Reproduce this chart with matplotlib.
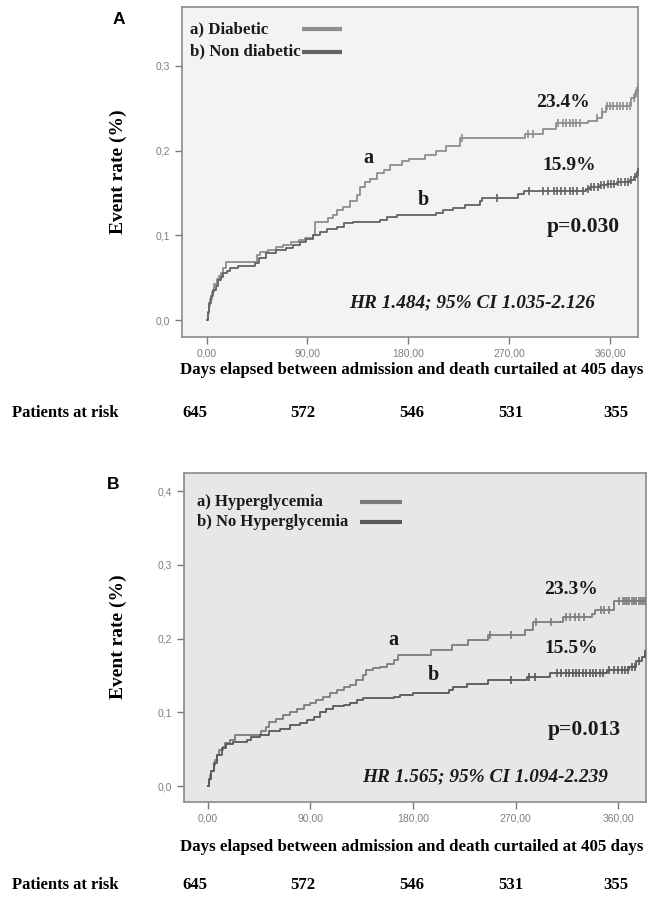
import numpy as np
import matplotlib
matplotlib.use("Agg")
import matplotlib.pyplot as plt
from matplotlib.lines import Line2D

W, H = 659, 898
SERIF = "Liberation Serif"
SANS = "Liberation Sans"

# ---------------- data ----------------
xticks = [0, 90, 180, 270, 360]
xticklabels = ["0,00", "90,00", "180,00", "270,00", "360,00"]
at_risk = ["645", "572", "546", "531", "355"]

# Panel A : Diabetic (a) vs Non diabetic (b)
A_a_t = [0, 1, 2, 3, 5, 7, 9, 11, 13, 15, 17, 45, 48, 55, 62, 68, 75, 82, 88, 95, 97,
         108, 113, 116, 122, 128, 134, 137, 141, 146, 152, 158, 164, 174, 181, 195, 205,
         214, 226, 284, 300, 312, 340, 348, 353, 356, 379, 382, 384]
A_a_v = [0, 0.008, 0.017, 0.025, 0.033, 0.043, 0.048, 0.052, 0.055, 0.062, 0.068, 0.077,
         0.080, 0.083, 0.086, 0.089, 0.092, 0.095, 0.097, 0.100, 0.116, 0.120, 0.124, 0.130,
         0.134, 0.140, 0.148, 0.157, 0.163, 0.167, 0.173, 0.177, 0.183, 0.188, 0.190, 0.195,
         0.200, 0.205, 0.2145, 0.220, 0.226, 0.232, 0.235, 0.239, 0.246, 0.253, 0.262, 0.268,
         0.274]
A_a_cens = [228, 287, 291, 314, 318, 321, 324, 327, 330, 333, 348, 353, 357, 360, 363,
            366, 369, 372, 375, 378, 381, 383, 385]

A_b_t = [0, 1, 2, 4, 6, 8, 10, 13, 15, 18, 21, 28, 43, 47, 53, 62, 71, 77, 83, 89, 95,
         101, 107, 116, 123, 131, 155, 161, 170, 205, 211, 220, 231, 244, 246, 278, 283,
         339, 342, 351, 357, 366, 378, 381, 384]
A_b_v = [0, 0.010, 0.020, 0.028, 0.035, 0.040, 0.047, 0.051, 0.055, 0.058, 0.061, 0.064,
         0.067, 0.073, 0.079, 0.083, 0.085, 0.089, 0.092, 0.096, 0.100, 0.104, 0.108, 0.110,
         0.114, 0.116, 0.118, 0.122, 0.124, 0.126, 0.130, 0.132, 0.136, 0.140, 0.1435, 0.149,
         0.1525, 0.155, 0.157, 0.159, 0.161, 0.163, 0.165, 0.169, 0.175]
A_b_cens = [259, 288, 300, 305, 310, 313, 316, 320, 324, 327, 331, 336, 340, 343, 346,
            349, 352, 355, 358, 361, 364, 367, 370, 373, 376, 379, 382, 385]

# Panel B : Hyperglycemia (a) vs No Hyperglycemia (b)
B_a_t = [0, 1, 2, 3, 5, 6, 8, 10, 13, 15, 19, 24, 47, 51, 54, 60, 66, 72, 78, 84, 90,
         95, 101, 107, 113, 119, 125, 130, 136, 139, 145, 151, 157, 163, 167, 196, 214,
         228, 246, 278, 285, 312, 337, 340, 356]
B_a_v = [0, 0.008, 0.015, 0.020, 0.028, 0.035, 0.042, 0.049, 0.053, 0.058, 0.062, 0.069,
         0.074, 0.080, 0.087, 0.091, 0.096, 0.100, 0.105, 0.110, 0.112, 0.117, 0.121, 0.126,
         0.130, 0.134, 0.137, 0.144, 0.151, 0.157, 0.160, 0.162, 0.166, 0.171, 0.178, 0.185,
         0.191, 0.198, 0.205, 0.212, 0.223, 0.229, 0.233, 0.239, 0.251]
B_a_cens = [248, 266, 288, 301, 314, 318, 322, 326, 330, 345, 348, 352, 361, 364, 366,
            368, 370, 372, 374, 376, 378, 380, 382, 384]

B_b_t = [0, 1, 3, 5, 8, 12, 16, 22, 34, 38, 46, 54, 63, 72, 81, 87, 93, 98, 104, 110,
         119, 125, 131, 136, 163, 169, 180, 212, 215, 227, 246, 280, 300, 350, 370, 376,
         381, 384]
B_b_v = [0, 0.010, 0.020, 0.031, 0.042, 0.051, 0.057, 0.060, 0.062, 0.066, 0.069, 0.074,
         0.078, 0.083, 0.085, 0.090, 0.094, 0.100, 0.105, 0.109, 0.110, 0.112, 0.117, 0.119,
         0.121, 0.124, 0.126, 0.130, 0.135, 0.139, 0.144, 0.148, 0.153, 0.157, 0.162, 0.169,
         0.175, 0.183]
B_b_cens = [266, 282, 287, 306, 310, 314, 317, 320, 323, 326, 329, 332, 335, 338, 341,
            344, 347, 352, 356, 360, 363, 366, 369, 372, 375, 378]

# ---------------- figure ----------------
fig = plt.figure(figsize=(W / 100, H / 100), dpi=100)


def fx(px):
    return px / W


def fy(py):
    return 1 - py / H


def km(ax, t, v, cens, color, xmax):
    t = np.asarray(t, float)
    v = np.asarray(v, float)
    tt = np.append(t, xmax)
    vv = np.append(v, v[-1])
    ax.step(tt, vv, where="post", color=color, lw=1.3, zorder=3)
    c = np.asarray(cens, float)
    idx = np.searchsorted(t, c, side="right") - 1
    ax.plot(c, v[idx], ls="none", marker="|", ms=5.5, mew=1.2, color=color, zorder=4)


def panel(rect, xlim, ylim, yticks, yticklabels, face, data, legend, legpos, ann, ylabel_y,
          panel_letter, letter_xy, xlabel_y, risk_y):
    ax = fig.add_axes(rect)
    ax.set_facecolor(face)
    ax.set_xlim(*xlim)
    ax.set_ylim(*ylim)
    for s in ax.spines.values():
        s.set_color("#8a8a8a")
        s.set_linewidth(1.2)
    ax.set_xticks(xticks)
    ax.set_xticklabels(xticklabels)
    ax.set_yticks(yticks)
    ax.set_yticklabels(yticklabels)
    ax.tick_params(colors="#7a7a7a", labelcolor="#7f7f7f", length=5, width=1.0,
                   labelsize=7.5)
    for lab in ax.get_xticklabels() + ax.get_yticklabels():
        lab.set_family(SANS)
    for (t, v, c, col) in data:
        km(ax, t, v, c, col, xlim[1] - 1)
    # legend
    (tx, lx0, lx1, ya, yb, fs) = legpos
    for (txt, col), yy in zip(legend, (ya, yb)):
        ax.text(tx, yy, txt, transform=ax.transAxes, family=SERIF, weight="bold",
                fontsize=fs, va="center", ha="left", color="#1a1a1a")
        ax.add_line(Line2D([lx0, lx1], [yy, yy], transform=ax.transAxes, color=col,
                           lw=3.0, solid_capstyle="butt"))
    for (x, y, s, fs, style) in ann:
        ax.text(x, y, s, family=SERIF, weight="bold", fontsize=fs, style=style,
                ha="center", va="center", color="#1a1a1a")
    fig.text(fx(118), fy(ylabel_y), "Event rate (%)", rotation=90, family=SERIF,
             weight="bold", fontsize=14, ha="center", va="center")
    fig.text(fx(letter_xy[0]), fy(letter_xy[1]), panel_letter, family=SANS, weight="bold",
             fontsize=12.5, ha="center", va="center")
    fig.text(fx(412), fy(xlabel_y),
             "Days elapsed between admission and death curtailed at 405 days",
             family=SERIF, weight="bold", fontsize=12.2, ha="center", va="center")
    fig.text(fx(12), fy(risk_y), "Patients at risk", family=SERIF, weight="bold",
             fontsize=12, ha="left", va="center")
    for xp, s in zip([195, 303, 412, 511, 616], at_risk):
        fig.text(fx(xp), fy(risk_y), s, family=SERIF, weight="bold", fontsize=12,
                 ha="center", va="center")
    return ax


# Panel A
axA = panel(
    rect=[fx(182), fy(337), (638 - 182) / W, 330 / H],
    xlim=(-22, 385), ylim=(-0.020, 0.3695),
    yticks=[0, 0.1, 0.2, 0.3], yticklabels=["0,0", "0,1", "0,2", "0,3"],
    face="#f3f3f3",
    data=[(A_a_t, A_a_v, A_a_cens, "#8e8e8e"), (A_b_t, A_b_v, A_b_cens, "#626262")],
    legend=[("a) Diabetic", "#8e8e8e"), ("b) Non diabetic", "#626262")],
    legpos=(0.0175, 0.263, 0.351, 0.933, 0.864, 12.2),
    ann=[(144, 0.191, "a", 14.5, "normal"), (193, 0.142, "b", 14.5, "normal"),
         (318, 0.257, "23.4%", 14, "normal"), (324, 0.183, "15.9%", 14, "normal"),
         (336, 0.110, "p=0.030", 15.5, "normal"),
         (237, 0.021, "HR 1.484; 95% CI 1.035-2.126", 13.9, "italic")],
    ylabel_y=172, panel_letter="A", letter_xy=(119, 20),
    xlabel_y=370, risk_y=413)

# Panel B
axB = panel(
    rect=[fx(184), fy(802), (646 - 184) / W, 329 / H],
    xlim=(-21, 384.5), ylim=(-0.0217, 0.4247),
    yticks=[0, 0.1, 0.2, 0.3, 0.4], yticklabels=["0,0", "0,1", "0,2", "0,3", "0,4"],
    face="#e7e7e7",
    data=[(B_a_t, B_a_v, B_a_cens, "#7c7c7c"), (B_b_t, B_b_v, B_b_cens, "#585858")],
    legend=[("a) Hyperglycemia", "#7c7c7c"), ("b) No Hyperglycemia", "#585858")],
    legpos=(0.028, 0.381, 0.472, 0.912, 0.851, 12),
    ann=[(163, 0.198, "a", 14.5, "normal"), (198, 0.151, "b", 14.5, "normal"),
         (319, 0.266, "23.3%", 14, "normal"), (319, 0.187, "15.5%", 14, "normal"),
         (330, 0.076, "p=0.013", 15.5, "normal"),
         (243, 0.0126, "HR 1.565; 95% CI 1.094-2.239", 13.9, "italic")],
    ylabel_y=637, panel_letter="B", letter_xy=(113, 485),
    xlabel_y=847, risk_y=885)

fig.savefig("out.png", dpi=100)
